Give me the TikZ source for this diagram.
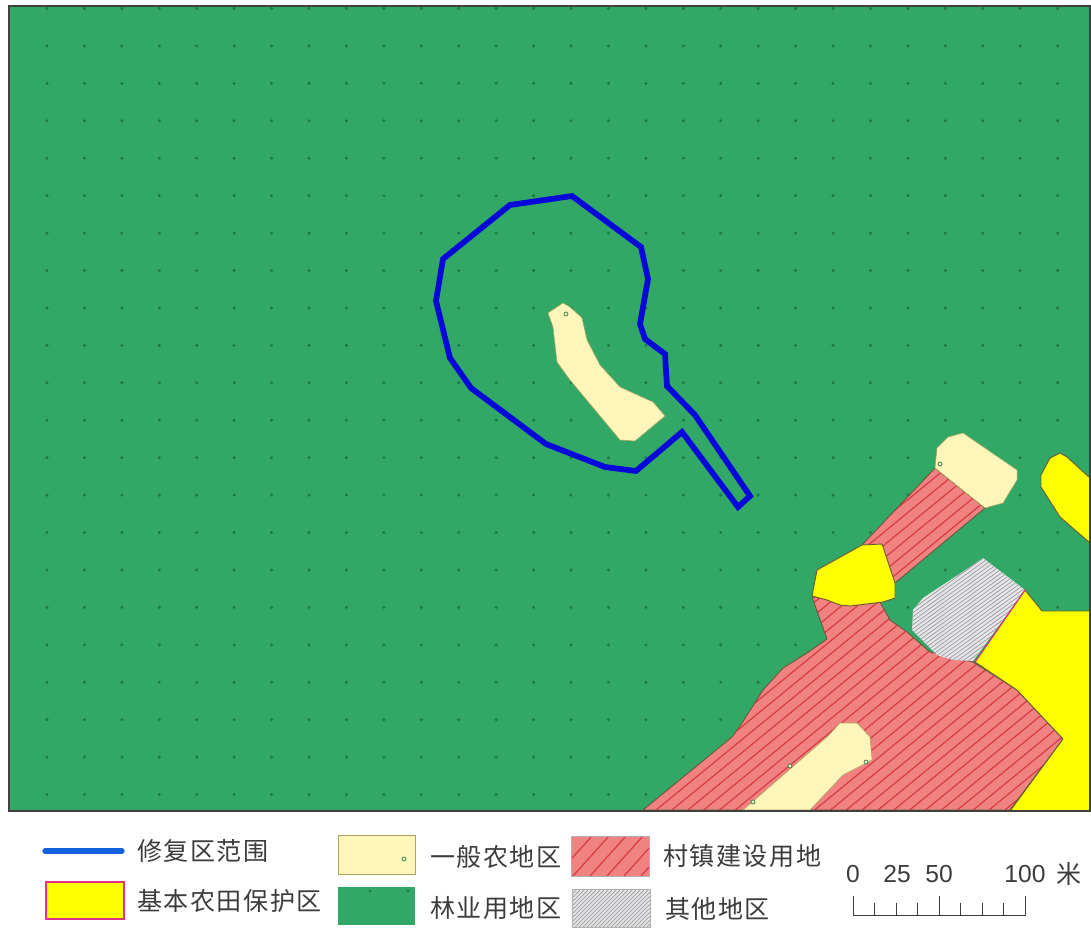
\documentclass[tikz,border=0pt]{standalone}
\usepackage{fontspec}
\setmainfont{Liberation Sans}
\newfontfamily\cjkfont[LetterSpace=6]{Noto Sans CJK SC}
\definecolor{forest}{HTML}{31A866}
\definecolor{forestdot}{HTML}{1B7A48}
\definecolor{cream}{HTML}{FDF5B9}
\definecolor{creamedge}{HTML}{A9A45C}
\definecolor{village}{HTML}{F08282}
\definecolor{villagehatch}{HTML}{D63C40}
\definecolor{otherfill}{HTML}{E6E6E8}
\definecolor{otherhatch}{HTML}{9C9C9E}
\definecolor{repairblue}{HTML}{0808D8}
\definecolor{legendblue}{HTML}{0F62DC}
\definecolor{edge}{HTML}{6B5A3A}
\definecolor{farmpink}{HTML}{E0308C}
\definecolor{farmyellow}{rgb}{1,1,0}
\definecolor{legendtext}{HTML}{3C3C3C}
\tikzset{
  mapedge/.style={draw=edge,line width=0.7pt,line join=round},
  farmland/.style={mapedge,fill=farmyellow},
  creamland/.style={draw=creamedge,line width=0.4pt,fill=cream,line join=round},
  villageland/.style={mapedge,fill=village},
  otherland/.style={fill=otherfill},
  villageline/.style={draw=villagehatch,line width=0.9pt},
  otherline/.style={draw=otherhatch,line width=0.55pt},
  repairline/.style={draw=repairblue,line width=4.3pt,line join=miter},
  tinymark/.style={draw=forestdot,line width=0.5pt,fill=cream},
  legendlabel/.style={font=\cjkfont\fontsize{18.8}{19}\selectfont,text=legendtext,anchor=west,inner sep=0pt},
  scalelabel/.style={font=\fontsize{18.5}{19}\selectfont,text=legendtext,anchor=center,inner sep=0pt},
  scalebar/.style={draw=legendtext,line width=0.75pt},
}
\def\redbig{(643,810) -- (732,737) -- (742,723) -- (763,690) -- (783,668) -- (807,653) -- (827,639) -- (812,597) -- (880,602) -- (890,620) -- (907,632) -- (930,652) -- (973,662) -- (1017,690) -- (1063,739) -- (1010,810)}
\def\redstrip{(935,468) -- (862,545) -- (895,583) -- (985,508)}
\def\graypoly{(983,558) -- (1025,590) -- (973,661) -- (953,660) -- (937,655) -- (912,630) -- (913,610) -- (923,598) -- (970,567)}
\begin{document}
\begin{tikzpicture}[x=0.75pt,y=-0.75pt]
\useasboundingbox (0,0) rectangle (1091,927);
% map ground
\fill[forest] (9,6) rectangle (1090,811);
\begin{scope}
  \clip (9,6) rectangle (1090,811);
  \foreach \i in {0,...,28}{
    \foreach \j in {0,...,21}{
      \pgfmathsetmacro{\dx}{47+37.43*\i}
      \pgfmathsetmacro{\dy}{8.5+37.43*\j}
      \fill[forestdot] (\dx,\dy) circle (1.7);
    }
  }
\end{scope}
% village land
\fill[village] \redbig -- cycle;
\begin{scope}
  \clip \redbig -- cycle;
  \foreach \k in {0,...,70}{
    \pgfmathsetmacro{\ca}{1140+13*\k-0.82*600}
    \pgfmathsetmacro{\cb}{1140+13*\k-0.82*1100}
    \draw[villageline] (600,\ca) -- (1100,\cb);
  }
\end{scope}
\draw[mapedge] \redbig -- cycle;
\fill[village] \redstrip -- cycle;
\begin{scope}
  \clip \redstrip -- cycle;
  \foreach \k in {0,...,70}{
    \pgfmathsetmacro{\ca}{1140+13*\k-0.82*600}
    \pgfmathsetmacro{\cb}{1140+13*\k-0.82*1100}
    \draw[villageline] (600,\ca) -- (1100,\cb);
  }
\end{scope}
\draw[mapedge] \redstrip -- cycle;
% other land
\fill[otherland] \graypoly -- cycle;
\begin{scope}
  \clip \graypoly -- cycle;
  \foreach \k in {0,...,35}{
    \pgfmathsetmacro{\ca}{1250+4*\k-0.72*880}
    \pgfmathsetmacro{\cb}{1250+4*\k-0.72*1060}
    \draw[otherline] (880,\ca) -- (1060,\cb);
  }
\end{scope}
% farmland
\draw[farmland] (812,596) -- (817,570) -- (862,545) -- (882,544) -- (895,583) -- (895,598) -- (883,602) -- (850,606) -- (840,605) -- (827,600) -- cycle;
\fill[farmyellow] (1090,478) -- (1067,457) -- (1060,453) -- (1050,458) -- (1041,475) -- (1041,487) -- (1060,517) -- (1090,543) -- cycle;
\draw[mapedge] (1090,478) -- (1067,457) -- (1060,453) -- (1050,458) -- (1041,475) -- (1041,487) -- (1060,517) -- (1090,543);
\draw[farmland] (1025,590) -- (1042,611) -- (1090,611) -- (1090,811) -- (1010,811) -- (1063,739) -- (1017,690) -- (975,662) -- cycle;
\draw[draw=farmpink,line width=0.8pt] (1025,590) -- (975,662);
% general farmland
\draw[creamland] (935,468) -- (937,448) -- (948,437) -- (963,433) -- (1017,470) -- (1017,480) -- (1003,503) -- (985,508) -- cycle;
\draw[creamland] (743,810) -- (827,737) -- (840,723) -- (857,723) -- (870,737) -- (872,760) -- (843,775) -- (810,810) -- cycle;
\draw[creamland] (548,313) -- (563,303) -- (570,307) -- (582,318) -- (587,340) -- (600,365) -- (620,387) -- (653,402) -- (665,416) -- (635,441) -- (620,440) -- (570,380) -- (557,362) -- (553,327) -- cycle;
\foreach \mx/\my in {566/314,940/464,866/762,753/802,790/766}{
  \draw[tinymark] (\mx,\my) circle (2);
}
% repair area
\draw[repairline] (572,196) -- (510,205) -- (443,259) -- (436,301) -- (450,358) -- (471,388) -- (546,444) -- (605,467) -- (636,471) -- (682,432) -- (738,507) -- (750,496) -- (695,415) -- (667,386) -- (665,354) -- (645,339) -- (640,324) -- (648,279) -- (641,247) -- cycle;
% map frame
\draw[draw=black!75,line width=0.9pt] (9,6) rectangle (1090,811);
% legend
\coordinate (blueL) at (45,851);
\coordinate (blueR) at (122,851);
\draw[draw=legendblue,line width=3.9pt,line cap=round] (blueL) -- (blueR);
\node[legendlabel] (t1) at (137,851) {修复区范围};
\draw[draw=farmpink,line width=1.9pt,fill=farmyellow] (46,882) rectangle (124,919);
\node[legendlabel] (t2) at (137,901) {基本农田保护区};
\draw[draw=creamedge,line width=0.7pt,fill=cream] (338,835) rectangle (415,874);
\draw[tinymark] (404,859) circle (2);
\node[legendlabel] (t3) at (430,857) {一般农地区};
\fill[forest] (338,887) rectangle (415,925);
\fill[forestdot] (370,891) circle (1.5);
\fill[forestdot] (408,891) circle (1.5);
\node[legendlabel] (t4) at (430,908) {林业用地区};
\fill[village] (571,836) rectangle (649,876);
\begin{scope}
  \clip (571,836) rectangle (649,876);
  \foreach \k in {0,...,7}{
    \pgfmathsetmacro{\xa}{556+17*\k}
    \pgfmathsetmacro{\xb}{556+17*\k+36}
    \draw[villageline] (\xa,876) -- (\xb,836);
  }
\end{scope}
\draw[draw=black!30,line width=0.5pt] (571,836) rectangle (649,876);
\node[legendlabel] (t5) at (663,856) {村镇建设用地};
\fill[otherfill] (572,889) rectangle (650,927);
\begin{scope}
  \clip (572,889) rectangle (650,927);
  \foreach \k in {0,...,32}{
    \pgfmathsetmacro{\xa}{535+4*\k}
    \pgfmathsetmacro{\xb}{535+4*\k+38}
    \draw[otherline] (\xa,927) -- (\xb,889);
  }
\end{scope}
\draw[draw=black!30,line width=0.5pt] (572,889) rectangle (650,927);
\node[legendlabel] (t6) at (665,909) {其他地区};
% scale
\node[scalelabel] (s0) at (853,874) {0};
\node[scalelabel] (s25) at (897,874) {25};
\node[scalelabel] (s50) at (939,874) {50};
\node[scalelabel] (s100) at (1025,874) {100};
\node[legendlabel,anchor=center] (smi) at (1069,874) {米};
\draw[scalebar] (853,896) -- (853,915) -- (1025,915) -- (1025,896);
\draw[scalebar] (939,896) -- (939,915);
\foreach \tx in {874.5,896,917.5,960.5,982,1003.5}{
  \draw[scalebar] (\tx,903) -- (\tx,915);
}
\end{tikzpicture}
\end{document}
